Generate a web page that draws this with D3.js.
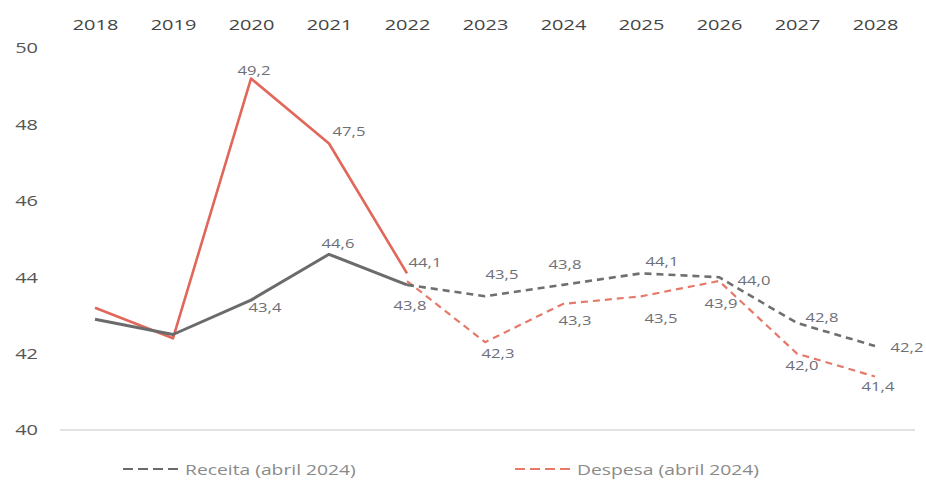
<!DOCTYPE html>
<html>
<head>
<meta charset="utf-8">
<script src="https://cdn.jsdelivr.net/npm/d3@7"></script>
<style>
  html, body { margin: 0; padding: 0; background: #fff; }
  svg { display: block; font-family: "Open Sans", "Noto Sans", sans-serif; }
</style>
</head>
<body>
<svg id="chart" width="926" height="483"></svg>
<script>
// Years shown along the top axis
const years = ["2018","2019","2020","2021","2022","2023","2024","2025","2026","2027","2028"];
const yTicks = [40, 42, 44, 46, 48, 50];

// Outturn (solid lines)
const receitaYears = ["2018","2019","2020","2021","2022"];
const receitaValues = [42.9, 42.5, 43.4, 44.6, 43.8];
const despesaYears = ["2018","2019","2020","2021","2022"];
const despesaValues = [43.2, 42.4, 49.2, 47.5, 44.1];

// April 2024 projections (dashed lines)
const receitaProjYears = ["2022","2023","2024","2025","2026","2027","2028"];
const receitaProjValues = [43.8, 43.5, 43.8, 44.1, 44.0, 42.8, 42.2];
const despesaProjYears = ["2022","2023","2024","2025","2026","2027","2028"];
const despesaProjValues = [43.9, 42.3, 43.3, 43.5, 43.9, 42.0, 41.4];

const legendLabels = ["Receita (abril 2024)", "Despesa (abril 2024)"];

// Label offsets (dx, dy) relative to each point, listed per series
const labelOffsets = {
  receita: [null, null, [14, 7], [9, -11], [3, 20]],
  despesa: [null, null, [3, -9], [20, -13], [18, -11]],
  receitaProj: [null, [17, -22], [2, -21], [21, -12], [35, 3], [25, -6], [32, 1]],
  despesaProj: [null, [13, 11], [12, 16], [20, 22], [2, 22], [5, 11], [3, 9]]
};

const GREY = "#6b6b6b";
const RED = "#e0675a";
const SX = 1.33; // horizontal text stretch

const svg = d3.select("#chart");
const x = d3.scalePoint().domain(years).range([95, 875]);
const y = d3.scaleLinear().domain([40, 50]).range([430, 48]);

// stretched text helper: places text at (px, py) and widens glyphs
function stretched(sel, px, py) {
  sel.attr("transform", (d, i) => `translate(${px(d, i)},${py(d, i)}) scale(${SX},1)`);
  return sel;
}

// Baseline at 40
svg.append("line")
  .attr("x1", 60).attr("x2", 915)
  .attr("y1", y(40)).attr("y2", y(40))
  .attr("stroke", "#e2e2e2").attr("stroke-width", 2);

// Top x axis (labels only)
const xAxis = svg.append("g").attr("transform", "translate(0,30)")
  .call(d3.axisTop(x).tickSize(0).tickPadding(0));
xAxis.select(".domain").remove();
xAxis.selectAll("text")
  .attr("fill", "#454545").attr("font-size", 15)
  .attr("font-family", "\"Open Sans\", sans-serif")
  .attr("dy", "0")
  .attr("transform", `scale(${SX},1)`);

// Left y axis (labels only)
const yAxis = svg.append("g").attr("transform", "translate(38,0)")
  .call(d3.axisLeft(y).tickValues(yTicks).tickSize(0).tickPadding(0).tickFormat(d3.format("d")));
yAxis.select(".domain").remove();
yAxis.selectAll("text")
  .attr("fill", "#555").attr("font-size", 15)
  .attr("font-family", "\"Open Sans\", sans-serif")
  .attr("x", 0)
  .attr("transform", `scale(${SX},1)`);

const line = d3.line().x(d => x(d[0])).y(d => y(d[1]));
const zip = (a, b) => a.map((k, i) => [k, b[i]]);

function drawSeries(ys, vs, color, width, dash) {
  svg.append("path")
    .datum(zip(ys, vs))
    .attr("d", line)
    .attr("fill", "none")
    .attr("stroke", color)
    .attr("stroke-width", width)
    .attr("stroke-linejoin", "round")
    .attr("stroke-dasharray", dash || null);
}

// Projections first so the outturn sits on top
drawSeries(despesaProjYears, despesaProjValues, "#e57a6b", 2.2, "7,5");
drawSeries(receitaProjYears, receitaProjValues, "#6f6f6f", 2.6, "7,5");
drawSeries(despesaYears, despesaValues, RED, 2.6);
drawSeries(receitaYears, receitaValues, GREY, 3);

const fmt = v => d3.format(".1f")(v).replace(".", ",");

function drawLabels(ys, vs, offsets) {
  const pts = zip(ys, vs).map((d, i) => ({ year: d[0], value: d[1], off: offsets[i] }))
    .filter(d => d.off);
  const t = svg.append("g").selectAll("text").data(pts).join("text")
    .text(d => fmt(d.value))
    .attr("text-anchor", "middle")
    .attr("dominant-baseline", "central")
    .attr("font-size", 12.5)
    .attr("fill", "#6e6e78");
  stretched(t, d => x(d.year) + d.off[0], d => y(d.value) + d.off[1]);
}

drawLabels(receitaYears, receitaValues, labelOffsets.receita);
drawLabels(despesaYears, despesaValues, labelOffsets.despesa);
drawLabels(receitaProjYears, receitaProjValues, labelOffsets.receitaProj);
drawLabels(despesaProjYears, despesaProjValues, labelOffsets.despesaProj);

// Legend
const legend = [
  { label: legendLabels[0], color: "#6b6b6b", x0: 123 },
  { label: legendLabels[1], color: "#e57a6b", x0: 515 }
];
const lg = svg.append("g");
lg.selectAll("line").data(legend).join("line")
  .attr("x1", d => d.x0).attr("x2", d => d.x0 + 56)
  .attr("y1", 469).attr("y2", 469)
  .attr("stroke", d => d.color).attr("stroke-width", 2.2)
  .attr("stroke-dasharray", "10,5");
const lt = lg.selectAll("text").data(legend).join("text")
  .text(d => d.label)
  .attr("dominant-baseline", "central")
  .attr("font-size", 14.5)
  .attr("fill", "#8a8a8a");
stretched(lt, d => d.x0 + 62, () => 469);
</script>
</body>
</html>
